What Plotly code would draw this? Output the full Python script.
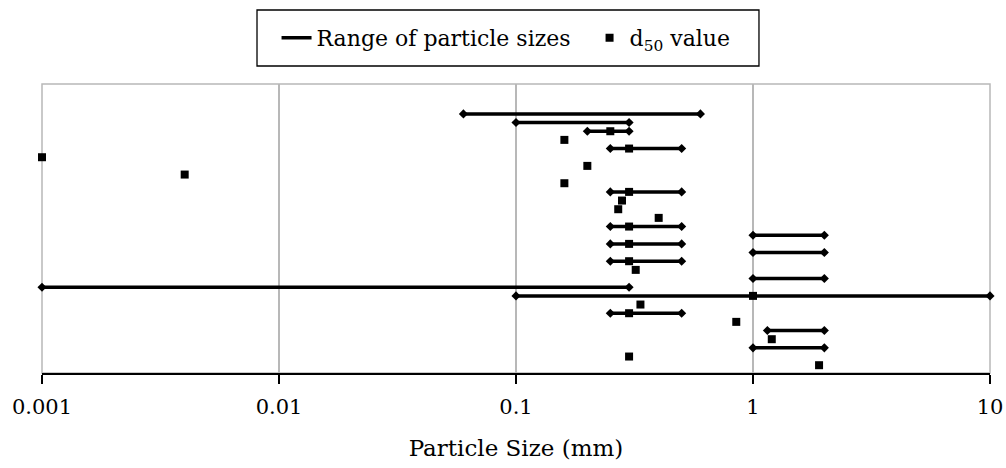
import plotly.graph_objects as go

# Rows are numbered from the bottom of the chart (1) to the top (30).
# Particle size ranges (mm): row, lower bound, upper bound
range_rows = [30, 29, 28, 26, 21, 17, 16, 15, 14, 13, 11, 10, 9, 7, 5, 3]
range_low = [0.06, 0.1, 0.2, 0.25, 0.25, 0.25, 1, 0.25, 1, 0.25, 1, 0.001, 0.1, 0.25, 1.15, 1]
range_high = [0.6, 0.3, 0.3, 0.5, 0.5, 0.5, 2, 0.5, 2, 0.5, 2, 0.3, 10, 0.5, 2, 2]

# Median particle size d50 (mm): row, value
d50_rows = [28, 27, 26, 25, 24, 23, 22, 21, 20, 19, 18, 17, 15, 13, 12, 9, 8, 7, 6, 4, 2, 1]
d50_vals = [0.25, 0.16, 0.3, 0.001, 0.2, 0.004, 0.16, 0.3, 0.28, 0.27, 0.4, 0.3, 0.3, 0.3,
            0.32, 1, 0.335, 0.3, 0.85, 1.2, 0.3, 1.9]

tick_vals = [0.001, 0.01, 0.1, 1, 10]
tick_text = ["0.001", "0.01", "0.1", "1", "10"]

FONT = "DejaVu Serif"
GRID = "#b8b8b8"

line_x, line_y, end_x, end_y = [], [], [], []
for r, lo, hi in zip(range_rows, range_low, range_high):
    line_x += [lo, hi, None]
    line_y += [r, r, None]
    end_x += [lo, hi]
    end_y += [r, r]

fig = go.Figure()

fig.add_trace(go.Scatter(
    x=line_x, y=line_y, mode="lines",
    line=dict(color="black", width=3.5),
    name="Range of particle sizes\u00a0\u00a0", cliponaxis=False,
))
fig.add_trace(go.Scatter(
    x=end_x, y=end_y, mode="markers",
    marker=dict(symbol="diamond", size=7, color="black"),
    showlegend=False, cliponaxis=False, hoverinfo="skip",
))
fig.add_trace(go.Scatter(
    x=d50_vals, y=d50_rows, mode="markers",
    marker=dict(symbol="square", size=8, color="black"),
    name="d<sub>50</sub> value", cliponaxis=False,
))

# light grey frame around the plotting area
fig.add_shape(type="rect", xref="paper", yref="paper", x0=0, y0=0, x1=1, y1=1,
              line=dict(color=GRID, width=1.5), layer="below")
# frame around the legend
fig.add_shape(type="rect", xref="paper", yref="paper",
              x0=0.2268, x1=0.7563, y0=1.0623, y1=1.2561,
              line=dict(color="black", width=1.3), layer="above")

fig.update_layout(
    width=1006, height=468,
    margin=dict(l=42, r=16, t=84, b=95, autoexpand=False),
    paper_bgcolor="white", plot_bgcolor="white",
    font=dict(family=FONT, size=22, color="black"),
    showlegend=True,
    legend=dict(
        orientation="h", x=0.4895, xanchor="center", y=1.159, yanchor="middle",
        borderwidth=0, bgcolor="rgba(0,0,0,0)",
        font=dict(family=FONT, size=22, color="black"),
        itemwidth=30,
    ),
    xaxis=dict(
        type="log", range=[-3, 1],
        tickvals=tick_vals, ticktext=tick_text,
        showgrid=True, gridcolor=GRID, gridwidth=1.5,
        showline=True, linecolor="black", linewidth=2,
        ticks="outside", ticklen=9, tickwidth=1.5, tickcolor="black",
        ticklabelstandoff=5,
        tickfont=dict(family=FONT, size=21),
        title=dict(text="Particle Size (mm)", standoff=22, font=dict(family=FONT, size=23)),
        zeroline=False,
    ),
    yaxis=dict(
        range=[0.1, 33.45], showgrid=False, showticklabels=False,
        zeroline=False, showline=False, ticks="",
    ),
)

fig.write_html("out.html")
